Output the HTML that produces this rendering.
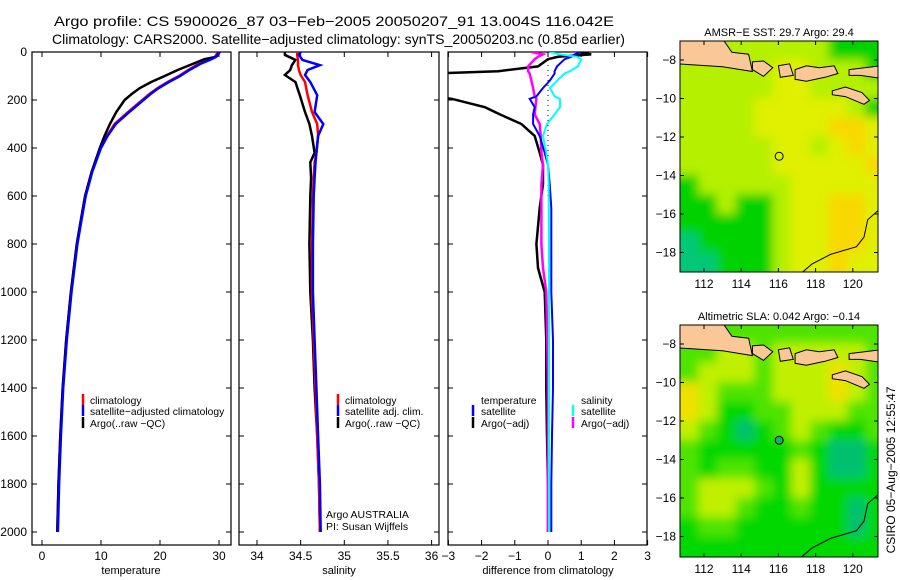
<!DOCTYPE html>
<html><head><meta charset="utf-8"><style>
html,body{margin:0;padding:0;background:#fff;}
svg{display:block;font-family:"Liberation Sans",sans-serif;}
</style></head><body>
<svg id="fig" width="900" height="580" viewBox="0 0 900 580" xmlns="http://www.w3.org/2000/svg">
<rect x="0" y="0" width="900" height="580" fill="#fff"/>
<text x="54" y="26" font-size="14" textLength="560" lengthAdjust="spacingAndGlyphs">Argo profile: CS 5900026_87 03−Feb−2005 20050207_91 13.004S 116.042E</text>
<text x="52" y="44" font-size="14" textLength="573" lengthAdjust="spacingAndGlyphs">Climatology: CARS2000. Satellite−adjusted climatology: synTS_20050203.nc (0.85d earlier)</text>
<defs>
<clipPath id="c1"><rect x="32" y="52" width="199" height="493"/></clipPath>
<clipPath id="c2"><rect x="239" y="52" width="200" height="493"/></clipPath>
<clipPath id="c3"><rect x="448" y="52" width="199" height="493"/></clipPath>
<clipPath id="m1"><rect x="680" y="41" width="198" height="231"/></clipPath>
<clipPath id="m2"><rect x="680" y="325" width="198" height="232"/></clipPath>
<filter id="soft" x="-5%" y="-5%" width="110%" height="110%"><feGaussianBlur stdDeviation="5" edgeMode="duplicate"/></filter>
</defs>
<g id="layer"></g>
<text transform="translate(895,470) rotate(-90)" font-size="12" text-anchor="middle">CSIRO 05−Aug−2005 12:55:47</text>
</svg>
<script>
// ---- profile data ----
const depthT = [0,10,20,30,50,75,100,125,150,175,200,250,300,350,400,500,600,700,800,1000,1200,1400,1600,1800,2000];
const climT  = [29.8,29.6,29.3,28.5,26.5,24.8,23.2,21.3,19.6,18.2,17.0,14.6,12.3,11.0,9.9,8.4,7.3,6.6,5.9,4.9,4.1,3.5,3.1,2.8,2.6];
const satT   = [30.1,29.9,29.5,28.7,26.8,25.0,23.4,21.5,19.8,18.4,17.2,14.8,12.5,11.1,10.0,8.5,7.4,6.7,6.0,5.0,4.2,3.6,3.2,2.9,2.7];
const argoT  = [30.0,29.8,29.5,27.5,25.5,23.0,20.8,18.5,16.6,15.2,14.0,12.6,11.5,10.6,9.8,8.4,7.3,6.6,5.9,4.9,4.1,3.5,3.1,2.8,2.6];
const depthS = [0,12,33,55,75,96,125,180,250,300,350,420,460,525,600,800,1000,1200,1400,1600,1800,2000];
const climS  = [34.46,34.46,34.47,34.47,34.48,34.50,34.55,34.58,34.63,34.69,34.70,34.68,34.66,34.65,34.64,34.63,34.63,34.65,34.67,34.69,34.71,34.72];
const satS   = [34.50,34.48,34.52,34.72,34.58,34.55,34.61,34.69,34.66,34.76,34.70,34.68,34.67,34.66,34.65,34.64,34.64,34.66,34.68,34.70,34.72,34.73];
const argoS  = [34.32,34.32,34.44,34.40,34.38,34.32,34.44,34.49,34.55,34.60,34.63,34.66,34.61,34.62,34.61,34.60,34.61,34.64,34.66,34.69,34.71,34.72];
const depthD = [0,10,20,30,60,80,90,120,150,185,195,230,260,300,350,420,470,550,650,800,900,1000,1200,1400,1600,1800,2000];
const dTsat  = [1.0,0.8,0.7,0.5,0.27,0.2,0.2,0.05,-0.15,-0.35,-0.55,-0.4,-0.45,-0.45,-0.25,-0.1,0.0,0.05,0.1,0.1,0.1,0.1,0.15,0.15,0.12,0.1,0.1];
const dTargo = [0.9,1.3,0.3,0.0,-0.3,-1.5,-3.5,-3.6,-3.6,-3.5,-2.9,-1.9,-1.45,-0.8,-0.4,-0.25,-0.15,-0.15,-0.25,-0.35,-0.3,-0.1,-0.05,-0.05,-0.03,0.0,0.0];
const dSsat  = [0.05,0.36,0.87,1.0,0.9,0.66,0.5,0.27,0.06,0.2,0.36,0.36,0.2,-0.03,-0.15,-0.05,0.0,0.02,0.02,0.03,0.03,0.03,0.03,0.03,0.03,0.03,0.03];
const dSargo = [-0.5,-0.15,-0.3,-0.4,-0.6,-0.6,-0.55,-0.5,-0.45,-0.4,-0.35,-0.38,-0.4,-0.25,-0.22,-0.2,-0.15,-0.2,-0.2,-0.2,-0.15,-0.05,-0.02,0.0,0.0,0.0,0.0];
const depthTicks = [0,200,400,600,800,1000,1200,1400,1600,1800,2000];
const tTicks = [0,10,20,30];
const sTicks = [34,34.5,35,35.5,36];
const dTicks = [-3,-2,-1,0,1,2,3];
// ---- map data (1-degree cells, rows lat -7..-19, cols lon 110.7..) ----
const sstRows = [
[2,2,2,2,2,2,2,2,1,1,1],[2,2,2,2,2,3,3,2,2,2,1],[2,2,2,2,2,3,3,2,2,2,2],
[2,2,2,2,3,3,3,3,3,2,1],[2,2,2,2,3,3,3,3,4,4,3],[2,2,2,2,2,3,3,2,3,4,3],
[2,2,2,2,2,3,3,3,3,3,4],[1,2,2,2,2,2,3,3,3,3,3],[1,1,2,1,1,2,3,3,4,4,3],
[1,1,1,1,1,2,3,3,4,4,3],[0,1,1,1,1,2,3,3,4,4,3],[0,0,1,1,1,2,3,3,4,3,3]];
const slaRows = [
[2,2,2,2,2,2,2,2,2,2,2],[2,2,3,3,2,3,3,3,3,3,2],[2,3,3,3,2,3,3,3,4,3,2],
[4,3,2,2,2,3,3,3,4,3,2],[4,3,1,1,2,2,3,3,3,2,2],[3,2,1,0,1,2,3,2,1,1,2],
[2,1,1,1,1,1,2,1,0,0,1],[2,1,2,2,1,1,3,1,0,0,1],[2,3,3,3,2,1,3,1,1,1,1],
[2,3,3,2,1,1,2,1,1,0,1],[1,2,2,1,1,1,1,1,1,0,1],[1,1,1,1,1,1,1,1,1,1,1]];
const lonTicks = [112,114,116,118,120];
const latTicks = [-8,-10,-12,-14,-16,-18];
const argoLon = 116.04, argoLat = -13.0;

const NS="http://www.w3.org/2000/svg";
const L=document.getElementById('layer');
function mk(tag,attrs,parent){const e=document.createElementNS(NS,tag);for(const k in attrs)e.setAttribute(k,attrs[k]);(parent||L).appendChild(e);return e;}
function txt(x,y,s,size,anchor,parent){const t=mk('text',{x:x,y:y,'font-size':size||12,'text-anchor':anchor||'start'},parent);t.textContent=s;return t;}

const yD = d => 52 + d*0.24;
const xT = v => 42 + v*5.9;
const xS = v => 257 + (v-34)*87.3;
const xDf = v => 548 + v*33.2;

function frame(x0,x1,name){
  const r=mk('rect',{x:x0,y:52,width:x1-x0,height:493,fill:'none',stroke:'#000','stroke-width':1.2});
  
  
  depthTicks.forEach(d=>{mk('line',{x1:x0,x2:x0+5,y1:yD(d),y2:yD(d),stroke:'#000'});mk('line',{x1:x1-5,x2:x1,y1:yD(d),y2:yD(d),stroke:'#000'});});
}
function xticks(ticks,fx,labelFmt){
  ticks.forEach(v=>{const x=fx(v);mk('line',{x1:x,x2:x,y1:52,y2:57,stroke:'#000'});mk('line',{x1:x,x2:x,y1:540,y2:545,stroke:'#000'});
    const t=txt(x,560,labelFmt(v),12,'middle');});
}
function series(xs,ds,fx,color,clip,name,w){
  const p=mk('path',{d:xs.map((v,i)=>(i?'L':'M')+fx(v).toFixed(1)+','+yD(ds[i]).toFixed(1)).join(''),fill:'none',stroke:color,'stroke-width':w||2.5,'clip-path':'url(#'+clip+')'});
  
  
}
function legend(x,y,color,label,tx){
  if(color){const m=mk('line',{x1:x,x2:x,y1:y-6,y2:y+5,stroke:color,'stroke-width':2.5});}
  const t=txt(tx,y+4,label,10.3);
}
const fmt = v => (v<0?'−'+Math.abs(v):String(v));

// Panel 1
frame(32,231,'temperature-panel');
depthTicks.forEach(d=>{const t=txt(27,yD(d)+4,String(d),12,'end');});
xticks(tTicks,xT,fmt);
series(climT,depthT,xT,'#ff0000','c1','temp-climatology-line');
series(argoT,depthT,xT,'#000000','c1','temp-argo-line');
series(satT,depthT,xT,'#0000ff','c1','temp-satellite-line');
txt(131,574,'temperature',11,'middle');
legend(83,400,'#ff0000','climatology',90);
legend(83,411,'#0000ff','satellite−adjusted climatology',90);
legend(83,423,'#000000','Argo(..raw −QC)',90);

// Panel 2
frame(239,439,'salinity-panel');
xticks(sTicks,xS,v=>String(v));
series(argoS,depthS,xS,'#000000','c2','sal-argo-line');
series(climS,depthS,xS,'#ff0000','c2','sal-climatology-line');
series(satS,depthS,xS,'#0000ff','c2','sal-satellite-line');
txt(339,574,'salinity',11,'middle');
legend(338,400,'#ff0000','climatology',345);
legend(338,411,'#0000ff','satellite adj. clim.',345);
legend(338,423,'#000000','Argo(..raw −QC)',345);
txt(326,518,'Argo AUSTRALIA',10.5);
txt(326,530,'PI: Susan Wijffels',10.5);

// Panel 3
frame(448,647,'difference-panel');
xticks(dTicks,xDf,fmt);
mk('line',{x1:548,x2:548,y1:55,y2:200,stroke:'#000','stroke-dasharray':'1,4'});
series(dTargo,depthD,xDf,'#000000','c3','diff-temp-argo-line');
series(dSargo,depthD,xDf,'#ff00ff','c3','diff-sal-argo-line');
series(dTsat,depthD,xDf,'#0000ff','c3','diff-temp-satellite-line',2);
series(dSsat,depthD,xDf,'#00ffff','c3','diff-sal-satellite-line',2);
txt(548,574,'difference from climatology',11,'middle');
legend(473,400,null,'temperature',481);
legend(473,411,'#0000ff','satellite',481);
legend(473,423,'#000000','Argo(−adj)',481);
legend(573,400,null,'salinity',581);
legend(573,411,'#00ffff','satellite',581);
legend(573,423,'#ff00ff','Argo(−adj)',581);

// Maps
const sstPal=['#00c878','#00d200','#b4f000','#e0f000','#f8d800'];
const slaPal=['#00c070','#00d800','#50e400','#c0f000','#f0e000'];
const land=[
 [[110.5,-6.9],[113.0,-6.9],[113.5,-7.6],[114.4,-7.7],[114.6,-8.6],[113,-8.35],[110.5,-8.2]],
 [[114.6,-8.1],[115.2,-8.05],[115.7,-8.4],[115.2,-8.85],[114.6,-8.5]],
 [[116.0,-8.3],[116.6,-8.2],[116.8,-8.8],[116.1,-8.9]],
 [[116.9,-8.5],[117.5,-8.3],[118.2,-8.4],[119.0,-8.3],[119.2,-8.7],[118.5,-8.9],[117.5,-9.1],[116.9,-9.0]],
 [[119.8,-8.5],[121.5,-8.3],[121.5,-8.95],[120.4,-8.8],[119.8,-8.8]],
 [[118.9,-9.6],[119.6,-9.4],[120.5,-9.7],[120.9,-10.1],[120.6,-10.3],[119.6,-9.9],[118.9,-9.8]]];
const oz=[[121.5,-15.7],[120.8,-16.3],[120.6,-17.2],[120.2,-17.7],[118.8,-18.1],[117.8,-18.6],[117.2,-19.1]];
function drawMap(top,bot,rows,pal,clip,title,name,filled){
  const xL=lon=>704+(lon-112)*18.6;
  const lat0=-8, yAt=lat=>top+19+(lat0-lat)*19.25;
  const g=mk('g',{'clip-path':'url(#'+clip+')'});
  
  
  const cells=mk('g',{filter:'url(#soft)'},g);
  rows.forEach((row,r)=>row.forEach((v,c)=>{
    const x=xL(110.7+c),y=yAt(-7-r);
    mk('rect',{x:(x-(c===0?20:0)).toFixed(1),y:(y-0.4-(r===0?20:0)).toFixed(1),width:19.4+(c===0||c===row.length-1?20:0),height:20+(r===0||r===rows.length-1?20:0),fill:pal[v]},cells);
  }));
  land.forEach(poly=>mk('path',{d:poly.map((p,i)=>(i?'L':'M')+xL(p[0]).toFixed(1)+','+yAt(p[1]).toFixed(1)).join('')+'Z',fill:'#fac896',stroke:'#000','stroke-width':1},g));
  mk('path',{d:oz.map((p,i)=>(i?'L':'M')+xL(p[0]).toFixed(1)+','+yAt(p[1]).toFixed(1)).join(''),fill:'none',stroke:'#000','stroke-width':1},g);
  const pt=mk('circle',{cx:xL(argoLon),cy:yAt(argoLat),r:4,fill:filled?'#10b070':'none',stroke:'#000','stroke-width':1});
  
  
  mk('rect',{x:680,y:top,width:198,height:bot-top,fill:'none',stroke:'#000','stroke-width':1});
  lonTicks.forEach(l=>{const x=xL(l);mk('line',{x1:x,x2:x,y1:top,y2:top+4,stroke:'#000'});mk('line',{x1:x,x2:x,y1:bot-4,y2:bot,stroke:'#000'});
    const t=txt(x,bot+16,String(l),12,'middle');});
  latTicks.forEach(l=>{const y=yAt(l);mk('line',{x1:680,x2:684,y1:y,y2:y,stroke:'#000'});mk('line',{x1:874,x2:878,y1:y,y2:y,stroke:'#000'});
    const t=txt(676,y+4,fmt(l),12,'end');});
  const tt=txt(779,top-5,title,11,'middle');
}
drawMap(41,272,sstRows,sstPal,'m1','AMSR−E SST: 29.7 Argo: 29.4','sst-map',false);
drawMap(325,557,slaRows,slaPal,'m2','Altimetric SLA: 0.042 Argo: −0.14','sla-map',true);
</script>
</body></html>
